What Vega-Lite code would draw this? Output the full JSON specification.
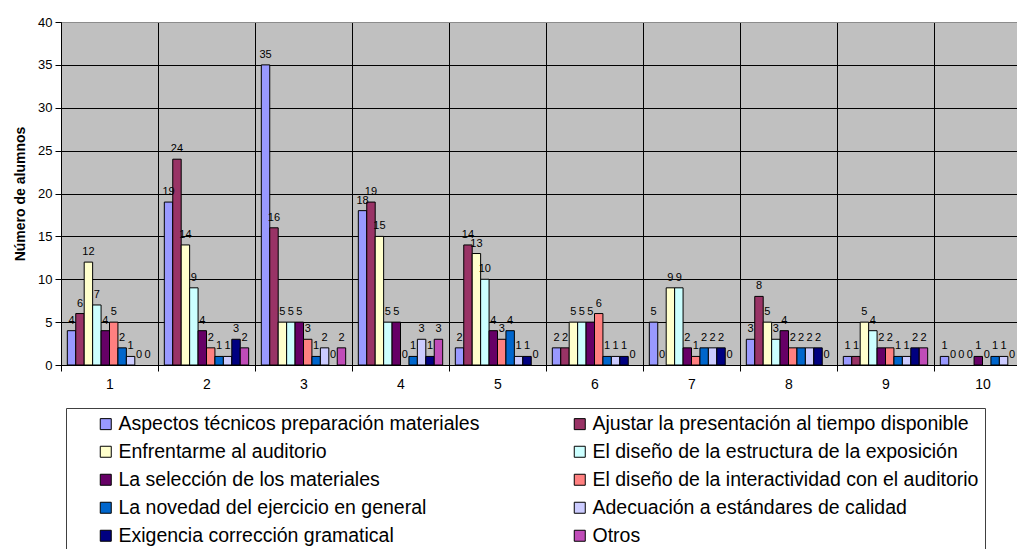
{
  "$schema": "https://vega.github.io/schema/vega-lite/v6.json",
  "autosize": {"type": "none"},
  "width": 956,
  "height": 343,
  "padding": {"left": 61, "top": 22, "right": 0, "bottom": 184},
  "background": "white",
  "config": {
    "font": "Liberation Sans",
    "view": {"fill": "#C0C0C0", "stroke": "#8C8C8C"},
    "axis": {
      "labelFont": "Liberation Sans",
      "titleFont": "Liberation Sans",
      "labelColor": "black",
      "titleColor": "black",
      "domainColor": "black",
      "tickColor": "black",
      "gridColor": "black",
      "gridOpacity": 1
    }
  },
  "data": {
    "values": [
      {"grupo": "1", "factor": "Aspectos técnicos preparación materiales", "alumnos": 4},
      {"grupo": "1", "factor": "Ajustar la presentación al tiempo disponible", "alumnos": 6},
      {"grupo": "1", "factor": "Enfrentarme al auditorio", "alumnos": 12},
      {"grupo": "1", "factor": "El diseño de la estructura de la exposición", "alumnos": 7},
      {"grupo": "1", "factor": "La selección de los materiales", "alumnos": 4},
      {"grupo": "1", "factor": "El diseño de la interactividad con el auditorio", "alumnos": 5},
      {"grupo": "1", "factor": "La novedad del ejercicio en general", "alumnos": 2},
      {"grupo": "1", "factor": "Adecuación a estándares de calidad", "alumnos": 1},
      {"grupo": "1", "factor": "Exigencia corrección gramatical", "alumnos": 0},
      {"grupo": "1", "factor": "Otros", "alumnos": 0},

      {"grupo": "2", "factor": "Aspectos técnicos preparación materiales", "alumnos": 19},
      {"grupo": "2", "factor": "Ajustar la presentación al tiempo disponible", "alumnos": 24},
      {"grupo": "2", "factor": "Enfrentarme al auditorio", "alumnos": 14},
      {"grupo": "2", "factor": "El diseño de la estructura de la exposición", "alumnos": 9},
      {"grupo": "2", "factor": "La selección de los materiales", "alumnos": 4},
      {"grupo": "2", "factor": "El diseño de la interactividad con el auditorio", "alumnos": 2},
      {"grupo": "2", "factor": "La novedad del ejercicio en general", "alumnos": 1},
      {"grupo": "2", "factor": "Adecuación a estándares de calidad", "alumnos": 1},
      {"grupo": "2", "factor": "Exigencia corrección gramatical", "alumnos": 3},
      {"grupo": "2", "factor": "Otros", "alumnos": 2},

      {"grupo": "3", "factor": "Aspectos técnicos preparación materiales", "alumnos": 35},
      {"grupo": "3", "factor": "Ajustar la presentación al tiempo disponible", "alumnos": 16},
      {"grupo": "3", "factor": "Enfrentarme al auditorio", "alumnos": 5},
      {"grupo": "3", "factor": "El diseño de la estructura de la exposición", "alumnos": 5},
      {"grupo": "3", "factor": "La selección de los materiales", "alumnos": 5},
      {"grupo": "3", "factor": "El diseño de la interactividad con el auditorio", "alumnos": 3},
      {"grupo": "3", "factor": "La novedad del ejercicio en general", "alumnos": 1},
      {"grupo": "3", "factor": "Adecuación a estándares de calidad", "alumnos": 2},
      {"grupo": "3", "factor": "Exigencia corrección gramatical", "alumnos": 0},
      {"grupo": "3", "factor": "Otros", "alumnos": 2},

      {"grupo": "4", "factor": "Aspectos técnicos preparación materiales", "alumnos": 18},
      {"grupo": "4", "factor": "Ajustar la presentación al tiempo disponible", "alumnos": 19},
      {"grupo": "4", "factor": "Enfrentarme al auditorio", "alumnos": 15},
      {"grupo": "4", "factor": "El diseño de la estructura de la exposición", "alumnos": 5},
      {"grupo": "4", "factor": "La selección de los materiales", "alumnos": 5},
      {"grupo": "4", "factor": "El diseño de la interactividad con el auditorio", "alumnos": 0},
      {"grupo": "4", "factor": "La novedad del ejercicio en general", "alumnos": 1},
      {"grupo": "4", "factor": "Adecuación a estándares de calidad", "alumnos": 3},
      {"grupo": "4", "factor": "Exigencia corrección gramatical", "alumnos": 1},
      {"grupo": "4", "factor": "Otros", "alumnos": 3},

      {"grupo": "5", "factor": "Aspectos técnicos preparación materiales", "alumnos": 2},
      {"grupo": "5", "factor": "Ajustar la presentación al tiempo disponible", "alumnos": 14},
      {"grupo": "5", "factor": "Enfrentarme al auditorio", "alumnos": 13},
      {"grupo": "5", "factor": "El diseño de la estructura de la exposición", "alumnos": 10},
      {"grupo": "5", "factor": "La selección de los materiales", "alumnos": 4},
      {"grupo": "5", "factor": "El diseño de la interactividad con el auditorio", "alumnos": 3},
      {"grupo": "5", "factor": "La novedad del ejercicio en general", "alumnos": 4},
      {"grupo": "5", "factor": "Adecuación a estándares de calidad", "alumnos": 1},
      {"grupo": "5", "factor": "Exigencia corrección gramatical", "alumnos": 1},
      {"grupo": "5", "factor": "Otros", "alumnos": 0},

      {"grupo": "6", "factor": "Aspectos técnicos preparación materiales", "alumnos": 2},
      {"grupo": "6", "factor": "Ajustar la presentación al tiempo disponible", "alumnos": 2},
      {"grupo": "6", "factor": "Enfrentarme al auditorio", "alumnos": 5},
      {"grupo": "6", "factor": "El diseño de la estructura de la exposición", "alumnos": 5},
      {"grupo": "6", "factor": "La selección de los materiales", "alumnos": 5},
      {"grupo": "6", "factor": "El diseño de la interactividad con el auditorio", "alumnos": 6},
      {"grupo": "6", "factor": "La novedad del ejercicio en general", "alumnos": 1},
      {"grupo": "6", "factor": "Adecuación a estándares de calidad", "alumnos": 1},
      {"grupo": "6", "factor": "Exigencia corrección gramatical", "alumnos": 1},
      {"grupo": "6", "factor": "Otros", "alumnos": 0},

      {"grupo": "7", "factor": "Aspectos técnicos preparación materiales", "alumnos": 5},
      {"grupo": "7", "factor": "Ajustar la presentación al tiempo disponible", "alumnos": 0},
      {"grupo": "7", "factor": "Enfrentarme al auditorio", "alumnos": 9},
      {"grupo": "7", "factor": "El diseño de la estructura de la exposición", "alumnos": 9},
      {"grupo": "7", "factor": "La selección de los materiales", "alumnos": 2},
      {"grupo": "7", "factor": "El diseño de la interactividad con el auditorio", "alumnos": 1},
      {"grupo": "7", "factor": "La novedad del ejercicio en general", "alumnos": 2},
      {"grupo": "7", "factor": "Adecuación a estándares de calidad", "alumnos": 2},
      {"grupo": "7", "factor": "Exigencia corrección gramatical", "alumnos": 2},
      {"grupo": "7", "factor": "Otros", "alumnos": 0},

      {"grupo": "8", "factor": "Aspectos técnicos preparación materiales", "alumnos": 3},
      {"grupo": "8", "factor": "Ajustar la presentación al tiempo disponible", "alumnos": 8},
      {"grupo": "8", "factor": "Enfrentarme al auditorio", "alumnos": 5},
      {"grupo": "8", "factor": "El diseño de la estructura de la exposición", "alumnos": 3},
      {"grupo": "8", "factor": "La selección de los materiales", "alumnos": 4},
      {"grupo": "8", "factor": "El diseño de la interactividad con el auditorio", "alumnos": 2},
      {"grupo": "8", "factor": "La novedad del ejercicio en general", "alumnos": 2},
      {"grupo": "8", "factor": "Adecuación a estándares de calidad", "alumnos": 2},
      {"grupo": "8", "factor": "Exigencia corrección gramatical", "alumnos": 2},
      {"grupo": "8", "factor": "Otros", "alumnos": 0},

      {"grupo": "9", "factor": "Aspectos técnicos preparación materiales", "alumnos": 1},
      {"grupo": "9", "factor": "Ajustar la presentación al tiempo disponible", "alumnos": 1},
      {"grupo": "9", "factor": "Enfrentarme al auditorio", "alumnos": 5},
      {"grupo": "9", "factor": "El diseño de la estructura de la exposición", "alumnos": 4},
      {"grupo": "9", "factor": "La selección de los materiales", "alumnos": 2},
      {"grupo": "9", "factor": "El diseño de la interactividad con el auditorio", "alumnos": 2},
      {"grupo": "9", "factor": "La novedad del ejercicio en general", "alumnos": 1},
      {"grupo": "9", "factor": "Adecuación a estándares de calidad", "alumnos": 1},
      {"grupo": "9", "factor": "Exigencia corrección gramatical", "alumnos": 2},
      {"grupo": "9", "factor": "Otros", "alumnos": 2},

      {"grupo": "10", "factor": "Aspectos técnicos preparación materiales", "alumnos": 1},
      {"grupo": "10", "factor": "Ajustar la presentación al tiempo disponible", "alumnos": 0},
      {"grupo": "10", "factor": "Enfrentarme al auditorio", "alumnos": 0},
      {"grupo": "10", "factor": "El diseño de la estructura de la exposición", "alumnos": 0},
      {"grupo": "10", "factor": "La selección de los materiales", "alumnos": 1},
      {"grupo": "10", "factor": "El diseño de la interactividad con el auditorio", "alumnos": 0},
      {"grupo": "10", "factor": "La novedad del ejercicio en general", "alumnos": 1},
      {"grupo": "10", "factor": "Adecuación a estándares de calidad", "alumnos": 1},
      {"grupo": "10", "factor": "Exigencia corrección gramatical", "alumnos": 0}
    ]
  },
  "encoding": {
    "x": {
      "field": "grupo",
      "type": "ordinal",
      "sort": ["1", "2", "3", "4", "5", "6", "7", "8", "9", "10"],
      "scale": {"range": [0, 970], "paddingInner": 0, "paddingOuter": 0},
      "axis": {
        "title": null,
        "labelAngle": 0,
        "labelFontSize": 14,
        "labelPadding": 6,
        "tickBand": "extent",
        "tickSize": 6,
        "grid": true,
        "gridWidth": 1,
        "domainWidth": 1
      }
    },
    "xOffset": {
      "field": "factor",
      "type": "nominal",
      "sort": [
        "Aspectos técnicos preparación materiales",
        "Ajustar la presentación al tiempo disponible",
        "Enfrentarme al auditorio",
        "El diseño de la estructura de la exposición",
        "La selección de los materiales",
        "El diseño de la interactividad con el auditorio",
        "La novedad del ejercicio en general",
        "Adecuación a estándares de calidad",
        "Exigencia corrección gramatical",
        "Otros"
      ],
      "scale": {"paddingInner": 0, "paddingOuter": 0.75}
    },
    "y": {
      "field": "alumnos",
      "type": "quantitative",
      "stack": null,
      "scale": {"domain": [0, 40], "nice": false},
      "axis": {
        "title": "Número de alumnos",
        "titleFontSize": 14,
        "titleFontWeight": "bold",
        "titlePadding": 10,
        "values": [0, 5, 10, 15, 20, 25, 30, 35, 40],
        "labelFontSize": 13,
        "labelPadding": 3,
        "tickSize": 6,
        "grid": true,
        "gridColor": {"condition": {"test": "datum.value == 40", "value": "#8C8C8C"}, "value": "black"}
      }
    }
  },
  "layer": [
    {
      "transform": [{"filter": "datum.alumnos > 0"}],
      "mark": {"type": "bar", "stroke": "black", "strokeWidth": 1},
      "encoding": {
        "color": {
          "field": "factor",
          "type": "nominal",
          "sort": [
            "Aspectos técnicos preparación materiales",
            "Ajustar la presentación al tiempo disponible",
            "Enfrentarme al auditorio",
            "El diseño de la estructura de la exposición",
            "La selección de los materiales",
            "El diseño de la interactividad con el auditorio",
            "La novedad del ejercicio en general",
            "Adecuación a estándares de calidad",
            "Exigencia corrección gramatical",
            "Otros"
          ],
          "scale": {
            "range": ["#9999FF", "#993366", "#FFFFCC", "#CCFFFF", "#660066", "#FF8080", "#0066CC", "#CCCCFF", "#000080", "#C04CB8"]
          },
          "legend": {
            "title": null,
            "orient": "none",
            "direction": "horizontal",
            "legendX": 5,
            "legendY": 386,
            "columns": 2,
            "columnPadding": 66,
            "rowPadding": 7,
            "padding": 6,
            "strokeColor": "#404040",
            "fillColor": "white",
            "symbolType": "square",
            "symbolSize": 121,
            "symbolStrokeColor": "black",
            "symbolStrokeWidth": 1,
            "symbolOffset": 24,
            "labelFont": "Liberation Sans",
            "labelFontSize": 19.5,
            "labelColor": "black",
            "labelOffset": 3,
            "labelLimit": 600
          }
        }
      }
    },
    {
      "mark": {"type": "text", "baseline": "alphabetic", "dy": -7, "fontSize": 11, "color": "black"},
      "encoding": {"text": {"field": "alumnos", "type": "quantitative"}}
    }
  ]
}
